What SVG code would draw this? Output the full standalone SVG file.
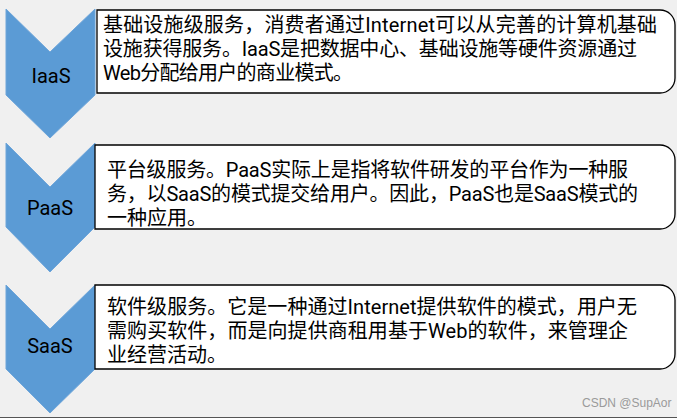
<svg xmlns="http://www.w3.org/2000/svg" width="677" height="418" viewBox="0 0 677 418">
<style>
.chev{fill:#5B9BD5;stroke:#6FA6DA;stroke-width:1}
.box{fill:#ffffff;stroke:#000000;stroke-width:1.3}
.lbl{font-family:Roboto,"Noto Sans CJK SC",sans-serif;font-size:20px;fill:#000;text-anchor:middle}
.txt{font-family:Roboto,"Noto Sans CJK SC",sans-serif;font-size:20px;fill:#000}
.wm{font-family:"Liberation Sans",Arial,sans-serif;font-size:12px;fill:#9a9a9a}
</style>
<rect x="0" y="0" width="677" height="418" fill="#f0f0f0"/>
<g id="iaas">
<path class="chev" d="M6,9 L50,52 L95,9 L95,95 L50,138 L6,95 Z"/>
<text class="lbl" x="51" y="83">IaaS</text>
</g>
<g id="paas">
<path class="chev" d="M6,143 L50,187 L95,143 L95,227 L50,272 L6,227 Z"/>
<text class="lbl" x="50" y="215">PaaS</text>
</g>
<g id="saas">
<path class="chev" d="M6,285 L50,329 L95,285 L95,369 L50,413 L6,369 Z"/>
<text class="lbl" x="50" y="353">SaaS</text>
</g>
<g id="iaas-desc">
<path class="box" d="M97,10 H660 A15,15 0 0 1 675,25 V78 A15,15 0 0 1 660,93 H97 Z"/>
<text class="txt" x="103" y="32" textLength="554" lengthAdjust="spacing">基础设施级服务，消费者通过Internet可以从完善的计算机基础</text>
<text class="txt" x="103" y="56" textLength="534" lengthAdjust="spacing">设施获得服务。IaaS是把数据中心、基础设施等硬件资源通过</text>
<text class="txt" x="103" y="80" textLength="250" lengthAdjust="spacing">Web分配给用户的商业模式。</text>
</g>
<g id="paas-desc">
<path class="box" d="M95,145 H660 A15,15 0 0 1 675,160 V214 A15,15 0 0 1 660,229 H95 Z"/>
<text class="txt" x="107" y="177" textLength="521" lengthAdjust="spacing">平台级服务。PaaS实际上是指将软件研发的平台作为一种服</text>
<text class="txt" x="107" y="201" textLength="531" lengthAdjust="spacing">务，以SaaS的模式提交给用户。因此，PaaS也是SaaS模式的</text>
<text class="txt" x="107" y="225">一种应用。</text>
</g>
<g id="saas-desc">
<path class="box" d="M95,285 H660 A15,15 0 0 1 675,300 V354 A15,15 0 0 1 660,369 H95 Z"/>
<text class="txt" x="107" y="314" textLength="530" lengthAdjust="spacing">软件级服务。它是一种通过Internet提供软件的模式，用户无</text>
<text class="txt" x="107" y="338" textLength="521" lengthAdjust="spacing">需购买软件，而是向提供商租用基于Web的软件，来管理企</text>
<text class="txt" x="107" y="362">业经营活动。</text>
</g>
<text class="wm" x="582" y="407">CSDN @SupAor</text>
<line x1="0" y1="417.5" x2="677" y2="417.5" stroke="#555" stroke-width="1"/>
</svg>
